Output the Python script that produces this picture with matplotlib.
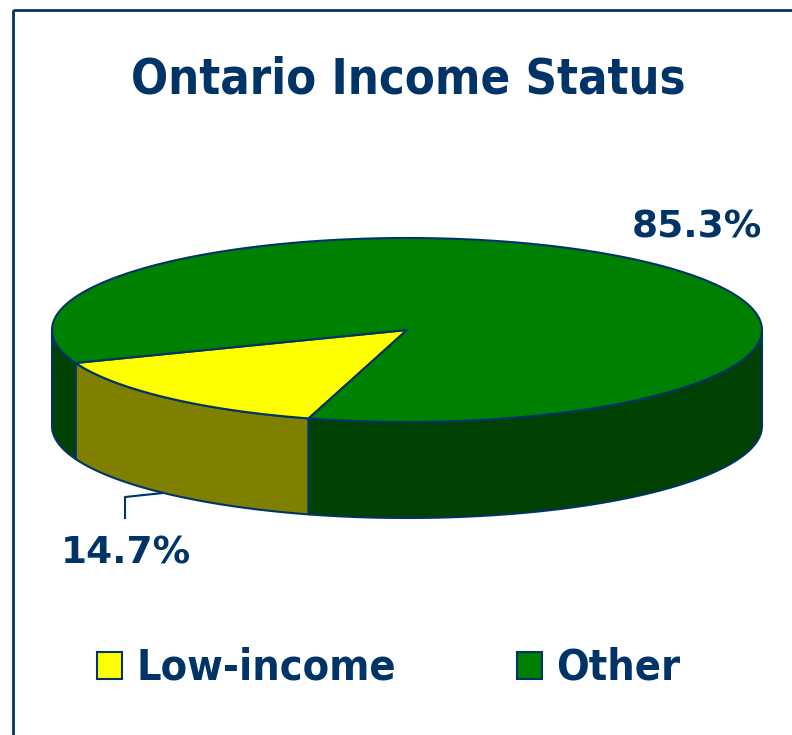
import numpy as np
import matplotlib
matplotlib.use("Agg")
import matplotlib.pyplot as plt
from matplotlib.patches import Polygon, Rectangle

categories = ["Low-income", "Other"]
values = [14.7, 85.3]
labels = ["14.7%", "85.3%"]
top_colors = ["#FFFF00", "#008000"]
side_colors = ["#808000", "#004000"]
title = "Ontario Income Status"

NAVY = "#003366"
W, H = 792, 735
fig = plt.figure(figsize=(W / 100, H / 100), dpi=100)
ax = fig.add_axes([0, 0, 1, 1])
ax.set_xlim(0, W)
ax.set_ylim(H, 0)
ax.axis("off")

# frame
ax.add_patch(Rectangle((13, 10), 900, 900, fill=False, ec=NAVY, lw=2))

cx, cy, a, b, depth = 407, 330, 355, 92, 96
start = 201.0  # angle where first slice begins (counterclockwise, degrees)

def pt(t, dz=0):
    r = np.radians(t)
    return cx + a * np.cos(r), cy - b * np.sin(r) + dz

def arc(t0, t1, dz=0, n=200):
    ts = np.linspace(t0, t1, n)
    return np.array([pt(t, dz) for t in ts])

total = sum(values)
bounds = []
t = start
for v in values:
    span = 360 * v / total
    bounds.append((t, t + span))
    t += span

def side_poly(t0, t1, color):
    lo, hi = max(t0, 180), min(t1, 360)
    if hi <= lo:
        return
    top = arc(lo, hi)
    bot = arc(hi, lo, depth)
    ax.add_patch(Polygon(np.vstack([top, bot]), closed=True, fc=color,
                         ec=NAVY, lw=1.5, joinstyle="round"))

for (t0, t1), c in zip(bounds, side_colors):
    for k in (-360, 0, 360):
        side_poly(t0 + k, t1 + k, c)

for (t0, t1), c in zip(bounds, top_colors):
    pts = np.vstack([[cx, cy], arc(t0, t1)])
    ax.add_patch(Polygon(pts, closed=True, fc=c, ec=NAVY, lw=1.5,
                         joinstyle="round"))

# labels
ax.text(697, 227, labels[1], ha="center", va="center", fontsize=27,
        fontweight="bold", color=NAVY, family="DejaVu Sans")
ax.text(126, 554, labels[0], ha="center", va="center", fontsize=27,
        fontweight="bold", color=NAVY, family="DejaVu Sans")
ax.plot([125, 125, 163], [518, 497, 493], color=NAVY, lw=1.5)

# title
ax.text(408, 79, title, ha="center", va="center", fontsize=35,
        fontweight="bold", color=NAVY, family="DejaVu Sans",
        fontstretch="condensed")

# legend
leg = [(97, categories[0], top_colors[0]), (517, categories[1], top_colors[1])]
for x, name, c in leg:
    ax.add_patch(Rectangle((x, 652), 25, 27, fc=c, ec=NAVY, lw=1.5))
    ax.text(x + 39, 667, name, ha="left", va="center", fontsize=31,
            fontweight="bold", color=NAVY, family="DejaVu Sans",
            fontstretch="condensed")

fig.savefig("out.png", dpi=100)
